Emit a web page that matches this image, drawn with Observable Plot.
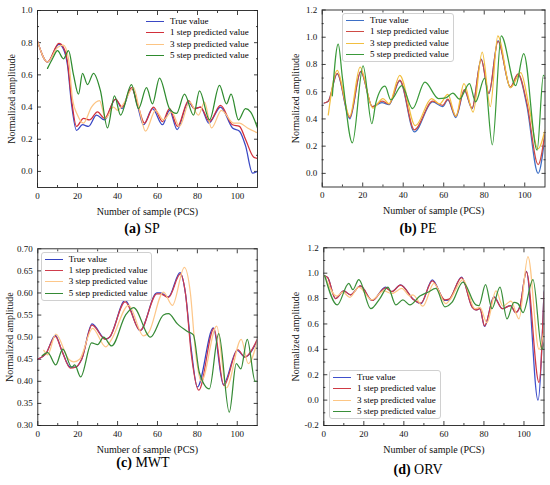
<!DOCTYPE html>
<html><head><meta charset="utf-8">
<script src="https://cdn.jsdelivr.net/npm/d3@7"></script>
<script src="https://cdn.jsdelivr.net/npm/@observablehq/plot@0.6"></script>
<style>
body{margin:0;background:#fff;}
#wrap{position:relative;width:550px;height:485px;font-family:"Liberation Serif",serif;color:#000;overflow:hidden;}
.panel{position:absolute;}
.cap{position:absolute;font-size:14px;transform:translate(-50%,-50%);white-space:nowrap;}
.leg{position:absolute;font-size:9px;line-height:11.3px;white-space:nowrap;}
.leg.box{border:1px solid #d0d0d0;border-radius:3px;background:#fff;}
.row{height:11.3px;display:flex;align-items:center;}
.sw{display:inline-block;width:18px;height:0;border-top:1.5px solid;margin-right:6px;}
</style></head><body><div id="wrap"></div>
<script>
const seriesNames = ["True value","1 step predicted value","3 step predicted value","5 step predicted value"];
const colorsA = ["#3a48c4","#d22f3a","#fcc483","#2e8b2e"];
const colorsB = ["#3d6fc6","#cf4b45","#f2bf40","#3a9a3a"];
const colorsC = ["#3442c2","#cf3c4c","#fdc78a","#358a35"];
const colorsD = ["#3f50cc","#cf3a44","#fdc684","#3a8f3a"];

const xMajor = [0,20,40,60,80,100];
const xMinor = [10,30,50,70,90];

// (a) SP
const aTrue = [[0,0.81],[5,0.68],[10.7,0.79],[13,0.76],[15,0.66],[17,0.42],[19.5,0.255],[22.5,0.29],[25.5,0.28],[29.5,0.35],[33.5,0.32],[39,0.45],[42.3,0.39],[47,0.52],[50,0.41],[53,0.29],[57.5,0.39],[62.5,0.29],[66,0.38],[69.8,0.26],[75.5,0.43],[78.5,0.39],[81.5,0.40],[85.7,0.30],[91.5,0.40],[97.5,0.27],[101,0.25],[104,0.16],[107.5,-0.01],[110,0.0]];
const aStep1 = [[0,0.81],[5,0.68],[10.7,0.795],[13,0.77],[15,0.68],[17,0.45],[19.5,0.28],[23,0.33],[26,0.32],[30,0.37],[33.5,0.33],[39,0.45],[42.3,0.40],[47,0.52],[50,0.42],[53.5,0.30],[58,0.40],[62.5,0.31],[66,0.39],[70,0.28],[75.5,0.44],[78.5,0.39],[81.5,0.40],[86,0.31],[91.5,0.41],[97.5,0.29],[101,0.28],[104,0.20],[108,0.09],[110,0.08]];
const aStep3 = [[0,0.81],[5,0.68],[10,0.77],[13,0.785],[15.5,0.70],[17.5,0.45],[20,0.35],[23,0.30],[27,0.40],[31,0.44],[34,0.33],[38,0.40],[40,0.38],[43,0.42],[48,0.52],[51,0.38],[54,0.25],[59,0.38],[63,0.32],[67,0.37],[71,0.28],[76,0.43],[80.5,0.35],[83.5,0.43],[87,0.27],[92,0.38],[98,0.30],[101,0.30],[105,0.27],[110,0.24]];
const aStep5 = [[5,0.64],[7.5,0.70],[10,0.75],[13,0.70],[15.5,0.75],[18,0.60],[20.5,0.48],[22.5,0.61],[25,0.54],[28,0.61],[31.5,0.50],[35,0.27],[38.5,0.47],[41.5,0.35],[47,0.54],[50.5,0.39],[54.5,0.52],[57.5,0.42],[61,0.58],[66,0.39],[69.5,0.36],[73.5,0.48],[78,0.35],[81,0.50],[86,0.32],[91,0.535],[94.5,0.42],[96.8,0.48],[100.5,0.32],[104,0.39],[106.5,0.37],[110,0.27]];
const aYMajor = [0,0.2,0.4,0.6,0.8,1.0];
const aYMinor = [0.1,0.3,0.5,0.7,0.9];

// (b) PE
const bTrue = [[1,0.517],[3,0.53],[7.4,0.73],[13.6,0.40],[19,0.745],[24.8,0.49],[29.5,0.52],[33,0.505],[38.3,0.68],[45.5,0.305],[54.5,0.525],[59.5,0.49],[62,0.54],[66,0.41],[70.2,0.61],[74,0.475],[78.5,0.84],[82.3,0.585],[86.8,0.975],[92.9,0.63],[96.7,0.727],[101,0.50],[106.6,0.0],[110,0.28]];
const bStep1 = [[1,0.517],[3,0.53],[7.4,0.735],[13.6,0.41],[19,0.75],[24.8,0.49],[29.5,0.53],[33,0.51],[38.3,0.685],[45.5,0.32],[54.5,0.53],[59.5,0.50],[62,0.545],[66,0.42],[70.2,0.615],[74,0.48],[78.5,0.835],[82.3,0.59],[86.8,0.97],[92.9,0.635],[96.7,0.73],[101,0.52],[106.6,0.065],[110,0.30]];
const bStep3 = [[3,0.43],[7.4,0.756],[13.6,0.42],[18.7,0.78],[25,0.48],[30,0.55],[33,0.51],[38.3,0.72],[46,0.35],[54,0.55],[58,0.51],[62,0.58],[66,0.42],[70,0.66],[74.5,0.45],[79,0.89],[83,0.49],[86.7,1.01],[93,0.63],[98,0.74],[102,0.50],[106.5,0.18],[110,0.32]];
const bStep5 = [[5,0.57],[7.9,0.95],[10,0.70],[14.9,0.225],[20.2,0.79],[24.5,0.365],[26.5,0.52],[31,0.64],[33.9,0.54],[39.3,0.645],[44.6,0.475],[50.7,0.67],[57.4,0.55],[61,0.555],[64.5,0.59],[67.8,0.545],[72.7,0.66],[75.7,0.525],[80.2,0.70],[84,0.21],[88.4,1.01],[95.5,0.645],[99.5,0.88],[106.1,0.17],[109.2,0.72],[110,0.71]];
const bYMajor = [0,0.2,0.4,0.6,0.8,1.0,1.2];
const bYMinor = [0.1,0.3,0.5,0.7,0.9,1.1];

// (c) MWT
const cTrue = [[0,0.45],[4,0.462],[8.8,0.504],[12,0.47],[16.3,0.432],[19,0.432],[22,0.45],[27.2,0.53],[33.8,0.496],[36,0.50],[43.8,0.583],[51.3,0.515],[59.7,0.60],[61.5,0.60],[65.5,0.591],[71.3,0.646],[74,0.60],[77,0.47],[80,0.387],[88,0.521],[93,0.393],[100,0.47],[103.8,0.455],[110,0.492]];
const cStep1 = [[0,0.45],[4,0.462],[8.8,0.502],[12,0.47],[16.3,0.43],[19,0.432],[22,0.45],[27.2,0.527],[33.8,0.495],[36,0.50],[43.8,0.58],[51.3,0.515],[59.7,0.598],[61.5,0.598],[65.5,0.59],[71.5,0.643],[74,0.60],[77,0.46],[80.7,0.38],[88.3,0.52],[93.3,0.39],[100.2,0.472],[103.8,0.455],[110,0.495]];
const cStep3 = [[3,0.47],[5,0.46],[9,0.507],[15.5,0.45],[18,0.444],[21,0.45],[27.5,0.52],[34,0.478],[37,0.495],[45.5,0.572],[53,0.503],[55.5,0.51],[63,0.602],[67.5,0.572],[73.5,0.658],[76.5,0.60],[79,0.47],[82,0.40],[89.7,0.525],[94.5,0.385],[102,0.495],[105.5,0.44],[110,0.49]];
const cStep5 = [[2.2,0.458],[5,0.465],[9,0.437],[12.5,0.473],[17,0.432],[18.5,0.437],[21.5,0.41],[27,0.487],[30,0.483],[33,0.50],[37,0.48],[44,0.55],[48,0.567],[56.5,0.50],[63,0.55],[65.5,0.553],[70,0.53],[75,0.513],[78,0.505],[81,0.42],[86,0.383],[90.7,0.508],[96,0.33],[99.5,0.44],[101.8,0.428],[105,0.495],[109,0.40],[110,0.40]];
const cYMajor = [0.30,0.35,0.40,0.45,0.50,0.55,0.60,0.65,0.70];
const cYMinor = [0.325,0.375,0.425,0.475,0.525,0.575,0.625,0.675];

// (d) ORV
const dTrue = [[0.5,0.98],[2,0.965],[5.8,0.80],[10,0.86],[13.3,0.83],[18.3,0.90],[24.2,0.785],[30.8,0.89],[34,0.855],[38.3,0.908],[45,0.79],[48.5,0.76],[54.2,0.947],[60.5,0.785],[62.5,0.79],[68.8,0.968],[74.2,0.73],[76,0.71],[78,0.72],[80.3,0.58],[85,0.815],[89.2,0.72],[93.3,0.745],[95.8,0.69],[98,0.74],[101.2,1.015],[107,0.0],[110,0.86]];
const dStep1 = [[0.5,0.98],[2,0.965],[5.8,0.80],[10,0.86],[13.3,0.83],[18.3,0.90],[24.2,0.785],[30.8,0.885],[34,0.855],[38.3,0.905],[45,0.79],[48.5,0.765],[54.2,0.94],[60.5,0.79],[62.5,0.795],[68.8,0.965],[74.2,0.73],[76,0.71],[78,0.72],[80.3,0.585],[85,0.81],[89.2,0.72],[93.3,0.745],[95.8,0.69],[98,0.74],[101.2,1.01],[107.5,0.14],[110,0.85]];
const dStep3 = [[0.5,0.98],[6.5,0.82],[9.5,0.85],[13,0.81],[17.5,0.89],[24,0.79],[30,0.86],[34,0.84],[39,0.88],[43,0.82],[44.5,0.83],[49.5,0.74],[55,0.92],[61,0.76],[63,0.79],[69.5,0.95],[75.5,0.72],[78,0.73],[81.5,0.61],[86,0.86],[89.5,0.74],[93.5,0.78],[97.5,0.64],[102,1.13],[107.5,0.40],[110,0.55]];
const dStep5 = [[0.5,0.98],[6.7,0.75],[12.5,0.92],[14.5,0.87],[17.5,0.95],[23.5,0.72],[28,0.80],[32,0.89],[36,0.75],[39.5,0.79],[43,0.75],[48,0.82],[52,0.85],[56,0.88],[60.5,0.735],[64,0.77],[69.5,0.93],[76,0.75],[77.5,0.745],[80.8,0.91],[84,0.72],[88,0.89],[91.5,0.64],[95,0.77],[97,0.76],[99.5,0.69],[104.5,0.95],[109,0.40],[110,0.45]];
const dYMajor = [-0.2,0,0.2,0.4,0.6,0.8,1.0,1.2];
const dYMinor = [-0.1,0.1,0.3,0.5,0.7,0.9,1.1];

const panels = [
  {tag:"(a)", name:"SP", s:[aTrue,aStep1,aStep3,aStep5], col:colorsA, yd:[-0.1,1.0], yMaj:aYMajor, yMin:aYMinor, fmt:".1f",
   left:0, top:0, w:275, h:218, mL:37, mR:18, mT:10, mB:31, ytdx:-25.3, cap:[142,229],
   leg:{x:146, y:16, box:false}},
  {tag:"(b)", name:"PE", s:[bTrue,bStep1,bStep3,bStep5], col:colorsB, yd:[-0.1,1.2], yMaj:bYMajor, yMin:bYMinor, fmt:".1f",
   left:275, top:0, w:275, h:218, mL:46.7, mR:5.5, mT:9.5, mB:31.5, ytdx:-26.7, cap:[418,229],
   leg:{x:342, y:13, box:true}},
  {tag:"(c)", name:"MWT", s:[cTrue,cStep1,cStep3,cStep5], col:colorsC, yd:[0.30,0.70], yMaj:cYMajor, yMin:cYMinor, fmt:".2f",
   left:0, top:240, w:275, h:215, mL:37.3, mR:18.3, mT:8.3, mB:30, ytdx:-28, cap:[143,463],
   leg:{x:40.7, y:251.7, box:true}},
  {tag:"(d)", name:"ORV", s:[dTrue,dStep1,dStep3,dStep5], col:colorsD, yd:[-0.2,1.2], yMaj:dYMajor, yMin:dYMinor, fmt:".1f",
   left:275, top:240, w:275, h:215, mL:48.3, mR:6.5, mT:7.3, mB:30, ytdx:-28.3, cap:[418,470],
   leg:{x:329, y:370, box:true}}
];

const wrap = document.getElementById("wrap");

for (const p of panels) {
  const f = d3.format(p.fmt);
  const yfmt = d => f(d).replace("\u2212","-");
  const marks = [];
  marks.push(Plot.axisX(xMajor, {anchor:"bottom", tickSize:0, tickPadding:5, tickFormat:d=>String(d), label:null}));
  marks.push(Plot.axisY(p.yMaj, {anchor:"left", tickSize:0, tickPadding:5, tickFormat:yfmt, label:null}));
  for (const anc of ["bottom","top"]) {
    marks.push(Plot.axisX(xMajor, {anchor:anc, tickSize:-4, tickFormat:()=>"", label:null, strokeWidth:0.8}));
    marks.push(Plot.axisX(xMinor, {anchor:anc, tickSize:-2, tickFormat:()=>"", label:null, strokeWidth:0.8}));
  }
  for (const anc of ["left","right"]) {
    marks.push(Plot.axisY(p.yMaj, {anchor:anc, tickSize:-4, tickFormat:()=>"", label:null, strokeWidth:0.8}));
    marks.push(Plot.axisY(p.yMin, {anchor:anc, tickSize:-2, tickFormat:()=>"", label:null, strokeWidth:0.8}));
  }
  p.s.forEach((data, i) => {
    marks.push(Plot.line(data, {x:d=>d[0], y:d=>d[1], stroke:p.col[i], strokeWidth:1.25, curve:"monotone-x", clip:true}));
  });
  marks.push(Plot.frame({stroke:"#222", strokeWidth:0.9}));
  marks.push(Plot.text(["Number of sample (PCS)"], {frameAnchor:"bottom", dy:24, lineAnchor:"middle", textAnchor:"middle", fontSize:10}));
  marks.push(Plot.text(["Normalized amplitude"], {frameAnchor:"left", dx:p.ytdx, rotate:-90, lineAnchor:"middle", textAnchor:"middle", fontSize:10}));

  const chart = Plot.plot({
    width:p.w, height:p.h,
    marginLeft:p.mL, marginRight:p.mR, marginTop:p.mT, marginBottom:p.mB,
    x:{domain:[0,110]},
    y:{domain:p.yd},
    style:{fontFamily:"'Liberation Serif', serif", fontSize:"9px", background:"transparent", overflow:"visible", color:"#111"},
    marks
  });
  const div = document.createElement("div");
  div.className = "panel";
  div.style.left = p.left + "px";
  div.style.top = p.top + "px";
  div.appendChild(chart);
  wrap.appendChild(div);

  const leg = document.createElement("div");
  leg.className = "leg" + (p.leg.box ? " box" : "");
  leg.style.left = p.leg.x + "px";
  leg.style.top = p.leg.y + "px";
  leg.style.padding = p.leg.box ? "1px 4px 1px 3px" : "0";
  seriesNames.forEach((n, i) => {
    const r = document.createElement("div");
    r.className = "row";
    const sw = document.createElement("span");
    sw.className = "sw";
    sw.style.borderTopColor = p.col[i];
    r.appendChild(sw);
    r.appendChild(document.createTextNode(n));
    leg.appendChild(r);
  });
  wrap.appendChild(leg);

  const cap = document.createElement("div");
  cap.className = "cap";
  cap.style.left = p.cap[0] + "px";
  cap.style.top = p.cap[1] + "px";
  cap.innerHTML = "<b>" + p.tag + "</b> " + p.name;
  wrap.appendChild(cap);
}
</script></body></html>
